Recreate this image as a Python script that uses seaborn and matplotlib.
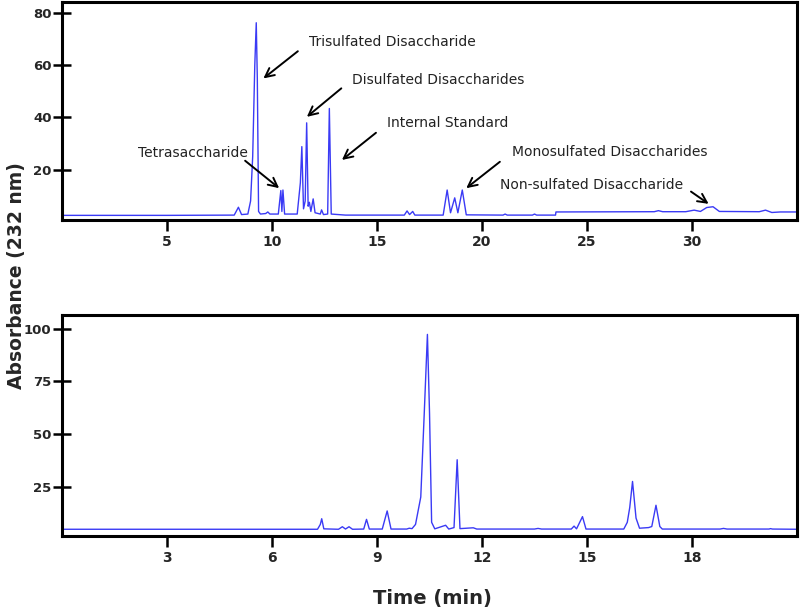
import matplotlib
matplotlib.use("Agg")
import matplotlib.pyplot as plt
import seaborn as sns
import pandas as pd

# ---- data (trace vertices: time [min], absorbance) ----
top_time = [0, 5.0, 8.2, 8.4, 8.55, 8.85, 8.98, 9.08, 9.18, 9.25, 9.3, 9.36, 9.45, 9.7, 9.8, 9.9,
            10.3, 10.42, 10.47, 10.52, 10.6, 11.2, 11.35, 11.42, 11.5, 11.58, 11.65, 11.72, 11.78,
            11.85, 11.96, 12.05, 12.3, 12.36, 12.45, 12.65, 12.73, 12.82, 13.5, 16.3, 16.43, 16.55,
            16.7, 16.8, 18.15, 18.34, 18.5, 18.7, 18.85, 19.06, 19.25, 21.0, 21.1, 21.2, 22.4, 22.5,
            22.6, 23.5, 23.52, 28.2, 28.4, 28.6, 29.7, 30.1, 30.4, 30.7, 31.0, 31.3, 33.2, 33.5,
            33.8, 34.2, 35.0]
top_abs = [2.5, 2.5, 2.6, 5.6, 2.8, 3.0, 8.0, 25.0, 60.0, 76.2, 55.0, 4.0, 3.0, 3.2, 3.8, 3.0,
           3.0, 12.0, 4.0, 12.2, 3.0, 3.0, 15.0, 28.8, 5.0, 8.0, 37.9, 6.0, 7.5,
           4.0, 8.8, 3.5, 3.0, 4.6, 2.8, 3.0, 43.4, 3.0, 2.6, 2.6, 4.2, 2.8,
           4.0, 2.6, 2.6, 12.2, 3.5, 9.2, 3.5, 12.2, 2.7, 2.6, 3.0, 2.6, 2.6, 3.0,
           2.6, 2.6, 3.8, 3.9, 4.3, 3.9, 3.9, 4.5, 4.0, 5.5, 5.8, 4.0, 3.9, 4.5,
           3.6, 3.8, 3.8]

bot_time = [0, 7.3, 7.38, 7.42, 7.48, 7.9, 8.01, 8.1, 8.2, 8.3, 8.62, 8.7, 8.78, 9.15, 9.29, 9.4,
            9.85, 9.92, 10.0, 10.1, 10.25, 10.35, 10.44, 10.5, 10.56, 10.65, 10.96, 11.05, 11.2,
            11.29, 11.37, 11.75, 11.85, 13.5, 13.6, 13.7, 14.55, 14.63, 14.7, 14.87, 14.97, 16.05,
            16.15, 16.22, 16.3, 16.4, 16.5, 16.76, 16.85, 16.97, 17.08, 17.15, 18.8, 18.9, 19.0,
            20.2, 20.24, 20.3, 21.0]
bot_abs = [4.7, 4.7, 7.0, 9.7, 4.9, 4.7, 5.9, 4.8, 5.9, 4.7, 4.8, 9.4, 4.8, 4.8, 13.4, 4.8,
           4.8, 5.2, 5.0, 7.0, 20.0, 60.0, 97.2, 60.0, 8.0, 4.9, 6.6, 4.8, 5.5,
           37.7, 5.0, 5.4, 4.8, 4.8, 5.1, 4.8, 4.8, 6.2, 4.9, 10.7, 4.8, 4.8,
           8.0, 15.0, 27.4, 10.0, 5.2, 5.5, 6.0, 16.1, 6.0, 4.8, 4.8, 5.1, 4.8,
           4.8, 5.0, 4.8, 4.7]

top_xticks = [5, 10, 15, 20, 25, 30]
top_yticks = [20, 40, 60, 80]
bot_xticks = [3, 6, 9, 12, 15, 18]
bot_yticks = [25, 50, 75, 100]

labels = ["Trisulfated Disaccharide", "Disulfated Disaccharides", "Internal Standard",
          "Tetrasaccharide", "Monosulfated Disaccharides", "Non-sulfated Disaccharide"]

# ---- drawing ----
sns.set_theme(style="white")
plt.rcParams["font.family"] = ["DejaVu Sans"]

fig = plt.figure(figsize=(8, 6.13), dpi=100)
ax1 = fig.add_axes([0.0775, 0.641, 0.9188, 0.356])
ax2 = fig.add_axes([0.0775, 0.1256, 0.9188, 0.3605])

line_color = "#3a3af5"
top_df = pd.DataFrame({"t": top_time, "a": top_abs})
bot_df = pd.DataFrame({"t": bot_time, "a": bot_abs})
sns.lineplot(data=top_df, x="t", y="a", ax=ax1, color=line_color, lw=1.0, sort=False)
sns.lineplot(data=bot_df, x="t", y="a", ax=ax2, color=line_color, lw=1.0, sort=False)

ax1.set_xlim(0, 35)
ax1.set_ylim(0.7, 84.2)
ax2.set_xlim(0, 21)
ax2.set_ylim(1.5, 106.4)

for ax, xt, yt in [(ax1, top_xticks, top_yticks), (ax2, bot_xticks, bot_yticks)]:
    ax.set_xticks(xt)
    ax.set_yticks(yt)
    ax.set_xlabel("")
    ax.set_ylabel("")
    for s in ax.spines.values():
        s.set_visible(True)
        s.set_color("black")
        s.set_linewidth(2.2)
    ax.tick_params(axis="x", direction="out", length=8, width=1.8, color="black",
                   labelsize=10, pad=3, bottom=True)
    ax.tick_params(axis="y", direction="inout", length=13, width=1.8, color="black",
                   labelsize=9.5, pad=1, left=True)
    for lab in ax.get_xticklabels() + ax.get_yticklabels():
        lab.set_fontweight("bold")

# annotations (text positions and arrows in data coordinates)
txt_kw = dict(fontsize=10, color="#222222", va="center", ha="left")
arr_kw = dict(arrowstyle="->", lw=1.4, color="black", mutation_scale=16, shrinkA=0, shrinkB=0)
ann = [
    (labels[0], (11.74, 68.9), (11.23, 65.3), (9.59, 54.9)),
    (labels[1], (13.8, 54.3), (13.3, 51.1), (11.66, 40.2)),
    (labels[2], (15.48, 37.7), (14.95, 34.1), (13.33, 23.7)),
    (labels[4], (21.41, 26.9), (20.85, 23.0), (19.25, 12.9)),
    (labels[5], (20.85, 14.1), (29.95, 11.6), (30.79, 6.9)),
]
for text, tpos, tail, head in ann:
    ax1.text(tpos[0], tpos[1], text, **txt_kw)
    ax1.annotate("", xy=head, xytext=tail, arrowprops=arr_kw)
ax1.text(8.85, 26.5, labels[3], fontsize=10, color="#222222", va="center", ha="right")
ax1.annotate("", xy=(10.34, 12.9), xytext=(8.72, 23.4), arrowprops=arr_kw)

fig.text(0.021, 0.55, "Absorbance (232 nm)", rotation=90, fontsize=13.5, fontweight="bold",
         ha="center", va="center")
fig.text(0.54, 0.024, "Time (min)", fontsize=14, fontweight="bold", ha="center", va="center")

fig.savefig("out.png", dpi=100)
